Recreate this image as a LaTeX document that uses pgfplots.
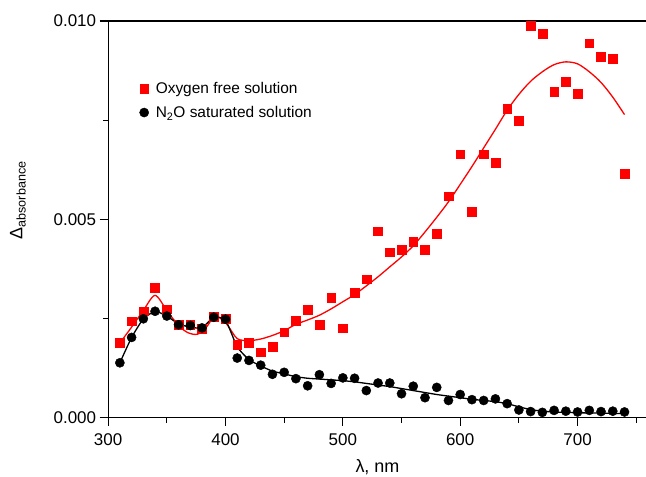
\documentclass[border=0pt]{standalone}
\usepackage{fontspec}
\setmainfont{Liberation Sans}
\usepackage{pgfplots}
\pgfplotsset{compat=1.18}
\definecolor{oxred}{RGB}{255,0,0}

% absorbance values are given in units of 0.001
\begin{document}
\begin{tikzpicture}
\begin{axis}[
  name=ax,
  scale only axis,
  width=538bp, height=396bp,
  xmin=300, xmax=759,
  ymin=0, ymax=10,
  clip=false,
  axis x line*=box, axis y line*=left,
  axis line style={line width=1.2pt, -},
  xtick={300,400,...,700}, minor x tick num=1,
  ytick={0,5,10}, yticklabels={0.000,0.005,0.010}, minor y tick num=1,
  xtick pos=left, ytick pos=left, tick align=outside,
  major tick length=8.5bp, minor tick length=5bp,
  tick style={black, line width=1.1pt},
  /pgf/number format/assume math mode=true,
  tick label style={font=\fontsize{17}{20}\selectfont},
  xticklabel style={yshift=-4bp},
  xlabel={λ, nm},
  ylabel={Δ\textsubscript{absorbance}},
  label style={font=\fontsize{18}{21}\selectfont},
  ylabel style={at={(ticklabel cs:0.548)}},
  ylabel shift=21bp,
  xlabel shift=7bp,
  legend style={at={(0.058,0.848)}, anchor=north west, draw=none, fill=none,
    inner sep=0pt, font=\fontsize{15.5}{18}\selectfont,
    nodes={inner sep=1pt}, column sep=6bp, row sep=9bp},
  legend cell align=left,
  legend image code/.code={\draw[#1] plot coordinates {(0,0)};},
]
% Oxygen free solution: fit
\addplot[oxred, line width=1.3pt, smooth, forget plot] coordinates {
  (310,1.88) (320,2.28) (330,2.70) (340,3.08) (350,2.70)
  (360,2.32) (368,2.14) (376,2.10) (383,2.25) (390,2.53)
  (396,2.50) (402,2.32) (410,1.99) (420,1.94) (430,1.98)
  (440,2.07) (450,2.19) (460,2.35) (470,2.46) (480,2.58)
  (490,2.74) (500,2.92) (510,3.10) (520,3.32) (530,3.55)
  (540,3.80) (550,4.05) (560,4.33) (570,4.68) (580,5.05)
  (590,5.44) (600,5.88) (610,6.33) (620,6.80) (630,7.27)
  (640,7.75) (650,8.15) (660,8.48) (670,8.72) (680,8.90)
  (690,8.97) (700,8.92) (710,8.72) (720,8.45) (730,8.08)
  (740,7.64)
};
% Oxygen free solution: data
\addplot[only marks, mark=square*, mark size=4.4pt, color=oxred] coordinates {
  (310,1.88) (320,2.43) (330,2.68) (340,3.27) (350,2.73)
  (360,2.35) (370,2.35) (380,2.24) (390,2.55) (400,2.49)
  (410,1.84) (420,1.89) (430,1.65) (440,1.78) (450,2.15)
  (460,2.45) (470,2.71) (480,2.35) (490,3.02) (500,2.25)
  (510,3.15) (520,3.49) (530,4.70) (540,4.17) (550,4.23)
  (560,4.44) (570,4.23) (580,4.64) (590,5.58) (600,6.64)
  (610,5.19) (620,6.64) (630,6.43) (640,7.78) (650,7.48)
  (660,9.88) (670,9.69) (680,8.21) (690,8.46) (700,8.16)
  (710,9.44) (720,9.10) (730,9.05) (740,6.14)
};
\addlegendentry{Oxygen free solution}
% N2O saturated solution: fit
\addplot[black, line width=1.3pt, smooth, tension=0.3, forget plot] coordinates {
  (310,1.38) (320,2.02) (330,2.49) (340,2.68) (350,2.56)
  (360,2.36) (370,2.28) (380,2.26) (390,2.53) (400,2.46)
  (410,1.78) (420,1.46) (430,1.30) (440,1.17) (450,1.10)
  (460,1.03) (470,0.99) (480,0.97) (490,0.95) (500,0.93)
  (510,0.90) (520,0.86) (530,0.82) (540,0.78) (550,0.73)
  (560,0.68) (570,0.63) (580,0.58) (590,0.54) (600,0.50)
  (610,0.46) (620,0.43) (630,0.40) (640,0.35) (650,0.27)
  (660,0.20) (670,0.16) (680,0.14) (700,0.12) (720,0.11)
  (740,0.10)
};
% N2O saturated solution: data
\addplot[only marks, mark=*, mark size=4.6pt, color=black] coordinates {
  (310,1.38) (320,2.02) (330,2.49) (340,2.68) (350,2.56)
  (360,2.34) (370,2.32) (380,2.26) (390,2.53) (400,2.48)
  (410,1.50) (420,1.44) (430,1.32) (440,1.09) (450,1.14)
  (460,0.98) (470,0.80) (480,1.08) (490,0.86) (500,1.00)
  (510,0.99) (520,0.68) (530,0.87) (540,0.87) (550,0.60)
  (560,0.79) (570,0.50) (580,0.76) (590,0.43) (600,0.58)
  (610,0.45) (620,0.43) (630,0.47) (640,0.35) (650,0.19)
  (660,0.15) (670,0.13) (680,0.18) (690,0.16) (700,0.14)
  (710,0.18) (720,0.15) (730,0.16) (740,0.14)
};
\addlegendentry{N\textsubscript{2}O saturated solution}
% left axis line (in short pieces) and bottom ticks as thin filled bars
\pgfplotsinvokeforeach{0,1,2,3,4,5,6,7,8,9}{
  \fill[black] ([xshift=-0.6bp,yshift=-0.6bp]axis cs:300,#1)
    rectangle ([xshift=0.6bp,yshift=0.6bp]axis cs:300,#1+1);
}
\pgfplotsinvokeforeach{300,400,500,600,700}{
  \fill[black] ([xshift=-0.55bp]axis cs:#1,0)
    rectangle ([xshift=0.55bp,yshift=-8.5bp]axis cs:#1,0);
}
\pgfplotsinvokeforeach{350,450,550,650,750}{
  \fill[black] ([xshift=-0.55bp]axis cs:#1,0)
    rectangle ([xshift=0.55bp,yshift=-5bp]axis cs:#1,0);
}
\end{axis}
\fill[black] ([xshift=-0.6bp,yshift=-0.6bp]ax.south west)
  -- ([xshift=0.6bp,yshift=-0.6bp]ax.south west)
  -- ([xshift=0.6bp,yshift=0.6bp]ax.north west)
  -- ([xshift=-0.6bp,yshift=0.6bp]ax.north west) -- cycle;
\pgfresetboundingbox
\path[use as bounding box] ([xshift=-108bp,yshift=-59bp]ax.south west)
  rectangle ([xshift=-0.8bp,yshift=21bp]ax.north east);
\end{tikzpicture}
\end{document}
